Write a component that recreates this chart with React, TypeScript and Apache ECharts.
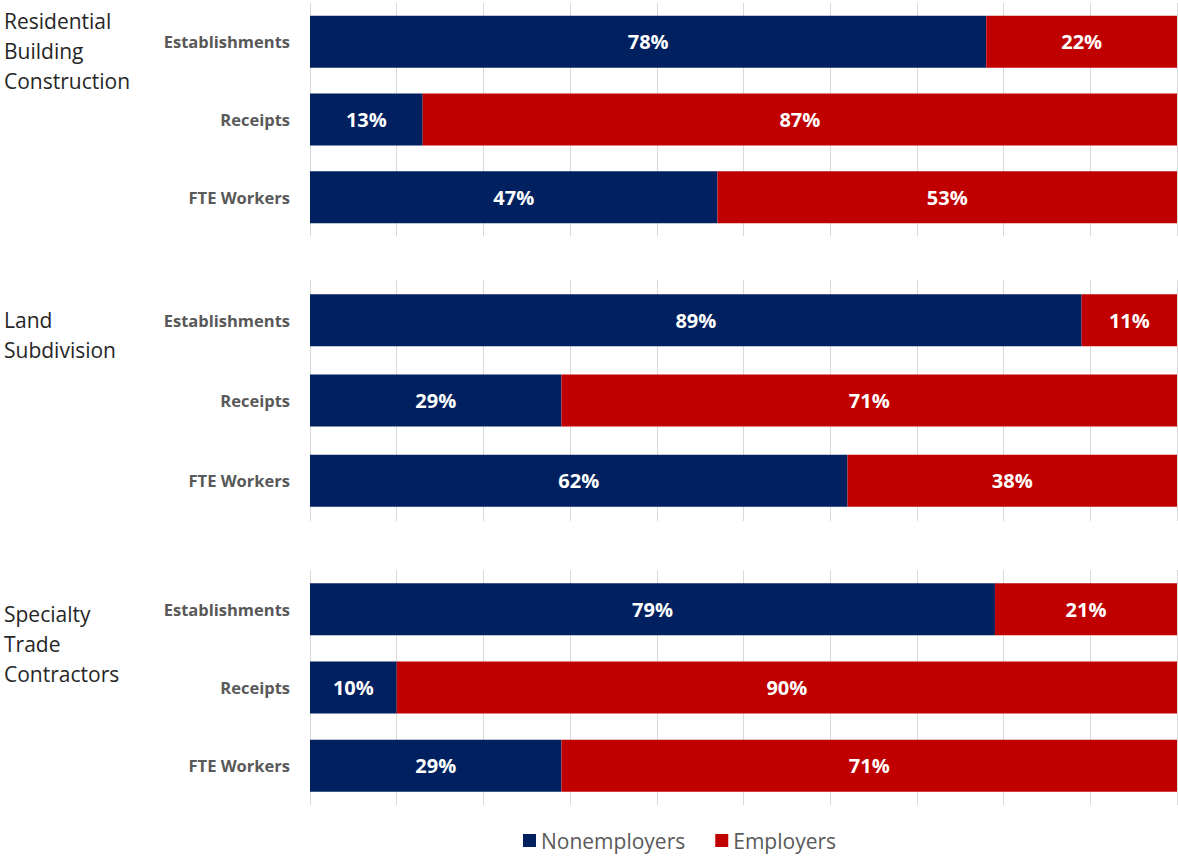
import React, { useEffect, useRef } from "react";
import * as echarts from "echarts";

const groups = ["Residential\nBuilding\nConstruction", "Land\nSubdivision", "Specialty\nTrade\nContractors"];
const categories = ["Establishments", "Receipts", "FTE Workers"];
const nonemployers = [
  [78, 13, 47],
  [89, 29, 62],
  [79, 10, 29],
];
const employers = [
  [22, 87, 53],
  [11, 71, 38],
  [21, 90, 71],
];
const seriesNames = ["Nonemployers", "Employers"];
const colors = ["#002060", "#C00000"];

const gridTops = [3, 280, 570];
const gridHeights = [233, 241, 235];
const groupLabelTops = [6, 305, 599];

export default function App() {
  const ref = useRef<HTMLDivElement>(null);
  useEffect(() => {
    document.body.style.margin = "0";
    const chart = echarts.init(ref.current!, null, { renderer: "svg" });
    const grids = gridTops.map((t, i) => ({ left: 310, right: 1, top: t, height: gridHeights[i] }));
    const xAxes = grids.map((_, i) => ({
      type: "value",
      gridIndex: i,
      min: 0,
      max: 100,
      interval: 10,
      axisLabel: { show: false },
      axisLine: { show: false },
      axisTick: { show: false },
      splitLine: { show: true, lineStyle: { color: "#d9d9d9", width: 1 } },
    }));
    const yAxes = grids.map((_, i) => ({
      type: "category",
      gridIndex: i,
      data: categories,
      inverse: true,
      axisLine: { show: false },
      axisTick: { show: false },
      axisLabel: {
        color: "#595959",
        fontFamily: "Open Sans",
        fontWeight: "bold",
        fontSize: 16.5,
        margin: 20,
      },
    }));
    const series: any[] = [];
    groups.forEach((_, gi) => {
      [nonemployers[gi], employers[gi]].forEach((vals, si) => {
        series.push({
          type: "bar",
          name: seriesNames[si],
          xAxisIndex: gi,
          yAxisIndex: gi,
          stack: "s" + gi,
          barWidth: 52,
          data: vals,
          itemStyle: { color: colors[si] },
          label: {
            show: true,
            position: "inside",
            formatter: "{c}%",
            color: "#ffffff",
            fontFamily: "Open Sans",
            fontWeight: "bold",
            fontSize: 20,
          },
        });
      });
    });
    chart.setOption({
      animation: false,
      grid: grids,
      xAxis: xAxes,
      yAxis: yAxes,
      series,
      legend: {
        data: seriesNames,
        bottom: 0,
        left: 518,
        icon: "rect",
        itemWidth: 13,
        itemHeight: 13,
        itemGap: 30,
        itemStyle: { borderWidth: 0 },
        textStyle: { color: "#595959", fontFamily: "Open Sans", fontSize: 21 },
      },
      graphic: groups.map((g, i) => ({
        type: "text",
        left: 4,
        top: groupLabelTops[i],
        style: {
          text: g,
          fill: "#262626",
          font: "21px 'Open Sans'",
          lineHeight: 30,
        },
      })),
    });
    return () => chart.dispose();
  }, []);
  return <div ref={ref} style={{ width: 1178, height: 856 }} />;
}
